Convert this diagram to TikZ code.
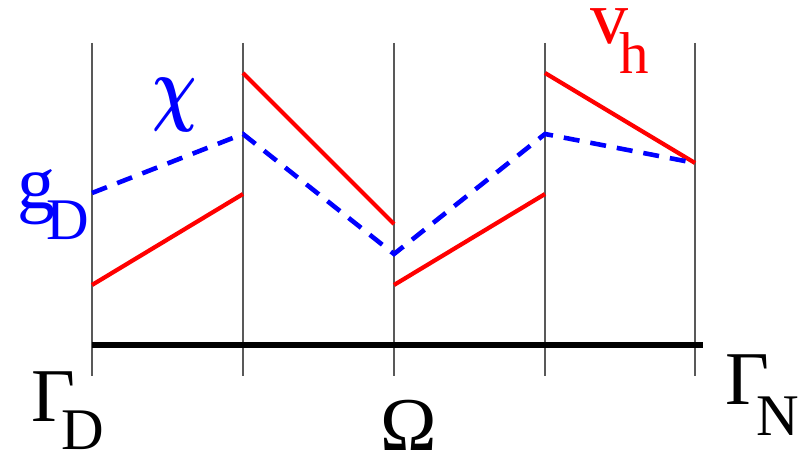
\documentclass[tikz,border=0pt]{standalone}
\usepackage{bm}
\usepackage{fontspec}
\setmainfont{Liberation Serif}
\newfontfamily\lserif{Liberation Serif}
\begin{document}
\begin{tikzpicture}[x=1pt,y=-1pt,
  grid/.style={draw=black!65,line width=1.1pt},
  axis/.style={draw=black,line width=5.5pt},
  redseg/.style={draw=red,line width=4.2pt},
  bluedash/.style={draw=blue,line width=4.6pt,dash pattern=on 16pt off 11pt},
  big/.style={inner sep=0pt,anchor=base west,font=\lserif\fontsize{76}{76}\selectfont},
  small/.style={inner sep=0pt,anchor=base west,font=\lserif\fontsize{59}{59}\selectfont}]
\useasboundingbox (0,0) rectangle (807,454);
% grid lines
\foreach \i/\x in {1/92,2/243,3/394,4/545,5/695}{
  \coordinate (t\i) at (\x,43);
  \coordinate (b\i) at (\x,376);
  \draw[grid] (t\i) -- (b\i);
}
\coordinate (al) at (92,345);
\coordinate (ar) at (703,345);
\draw[axis] (al) -- (ar);
% red segments
\coordinate (r1a) at (92,285); \coordinate (r1b) at (243,194);
\coordinate (r2a) at (243,73); \coordinate (r2b) at (394,224);
\coordinate (r3a) at (394,285); \coordinate (r3b) at (545,194);
\coordinate (r4a) at (545,73); \coordinate (r4b) at (695,163);
\draw[redseg] (r1a) -- (r1b);
\draw[redseg] (r2a) -- (r2b);
\draw[redseg] (r3a) -- (r3b);
\draw[redseg] (r4a) -- (r4b);
% blue dashed
\coordinate (c1) at (92,193); \coordinate (c2) at (243,134);
\coordinate (c3) at (394,254); \coordinate (c4) at (545,134);
\coordinate (c5) at (695,163);
\draw[bluedash] (c1) -- (c2) -- (c3) -- (c4) -- (c5);
% labels
\node[big] (GD) at (31,422) {Γ};
\node[small] (GDs) at (61,450) {D};
\node[big] (Om) at (380,451) {Ω};
\node[big] (GN) at (725,405) {Γ};
\node[small] (GNs) at (756,436) {N};
\node[big,text=blue] (g) at (17,209) {g};
\node[small,text=blue] (gs) at (46,240) {D};
\node[inner sep=0pt,anchor=base west,text=blue] (chi) at (152,116) {\scalebox{6.2}[8.4]{$\bm{\chi}$}};
\node[big,text=red] (v) at (590,44) {v};
\node[small,text=red] (vs) at (619,74) {h};
\end{tikzpicture}
\end{document}
